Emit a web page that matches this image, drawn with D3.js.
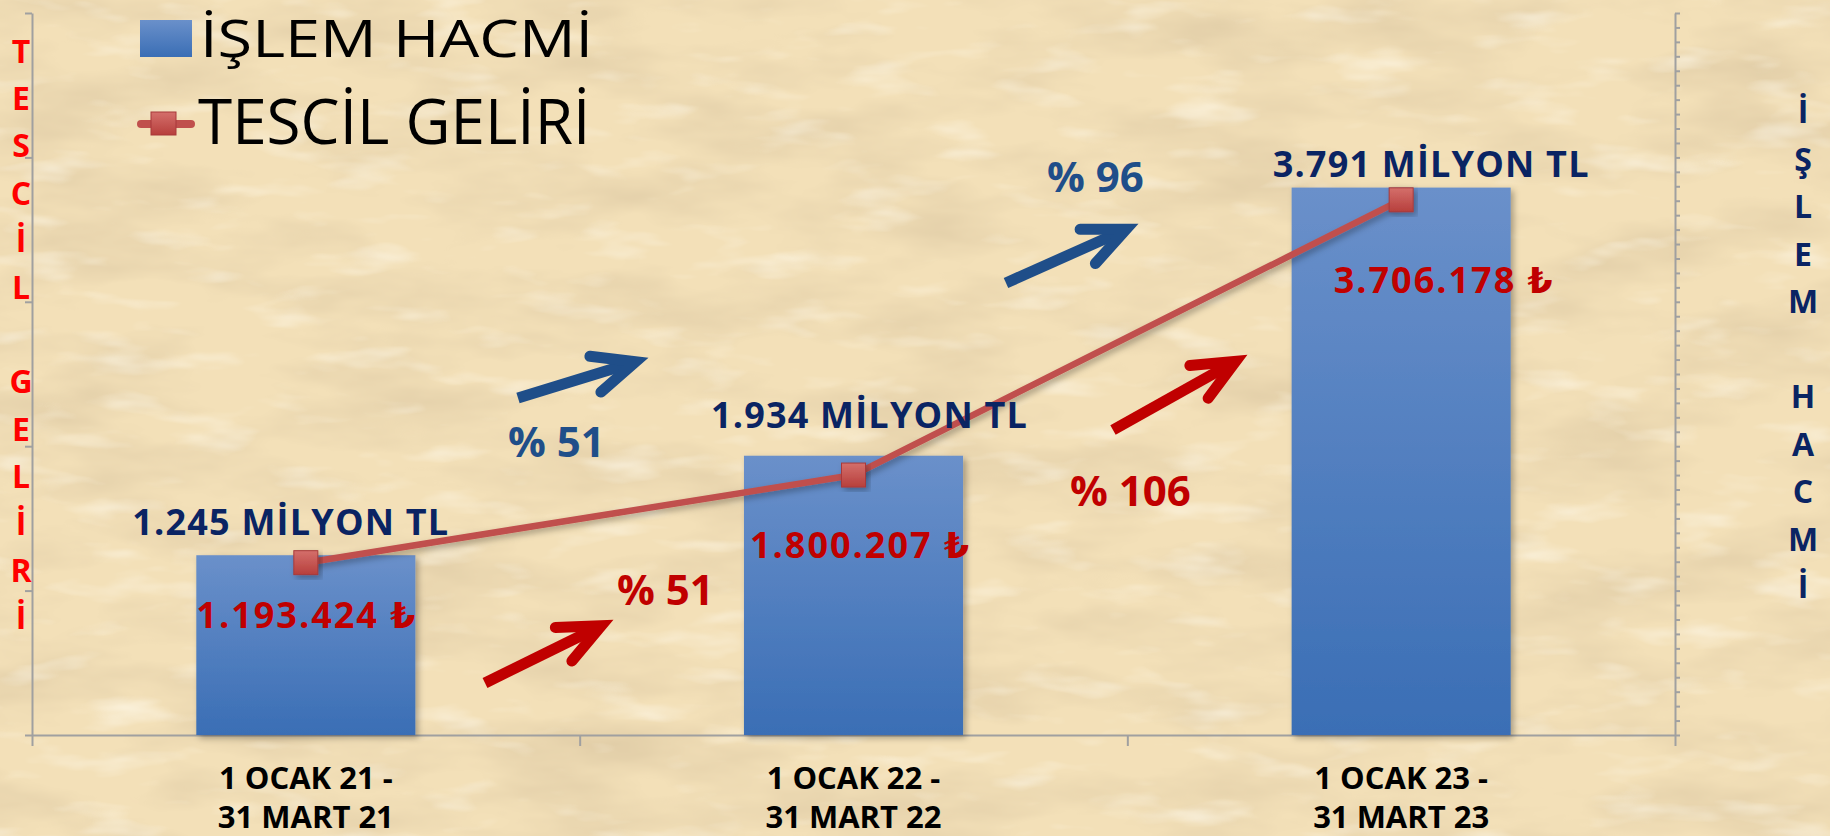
<!DOCTYPE html>
<html>
<head>
<meta charset="utf-8">
<script src="https://cdn.jsdelivr.net/npm/d3@7"></script>
<style>
  html, body { margin: 0; padding: 0; background: #f2dfb7; overflow: hidden; }
  svg { display: block; }
  text { font-family: 'Open Sans', 'DejaVu Sans', sans-serif; }
</style>
</head>
<body>
<svg id="chart" width="1830" height="836"></svg>
<script>
// data
var categories = [['1 OCAK 21 -', '31 MART 21'], ['1 OCAK 22 -', '31 MART 22'], ['1 OCAK 23 -', '31 MART 23']]
var islemHacmi = [1245, 1934, 3791]              // milyon TL
var tescilGeliri = [1193424, 1800207, 3706178]   // TL
var hacimTicks = d3.range(0, 5001, 100)
var gelirTicks = d3.range(0, 5000001, 1000000)
var seriesNames = ['İŞLEM HACMİ', 'TESCİL GELİRİ']
var hacimArtis = ['% 51', '% 96']
var gelirArtis = ['% 51', '% 106']
var leftTitle = 'TESCİL GELİRİ'
var rightTitle = 'İŞLEM HACMİ'

// layout
var W = 1830, H = 836
var plotLeft = 32, plotRight = 1675, plotTop = 13, plotBottom = 735
var navy = '#0a2463', darkRed = '#c00000', arrowBlue = '#1f4e89', lineRed = '#c0504d', axisGray = '#a0a0a0'

// hand placed label offsets, as in the original slide
var hacimLabelOff = [[-15, -20], [16, -28], [30, -11]]
var gelirLabelOff = [[1, 65], [7, 83], [43, 93]]
var blueArrows = [{tail: [518, 398], tip: [648, 358], text: [508, 457]},
                  {tail: [1006, 283], tip: [1138, 224], text: [1047, 192]}]
var redArrows = [{tail: [485, 683], tip: [613, 620], text: [617, 605]},
                 {tail: [1113, 430], tip: [1247, 355], text: [1070, 506]}]

var tr = d3.formatLocale({decimal: ',', thousands: '.', grouping: [3], currency: ['', '₺']})
var fmt = tr.format(',d')

var svg = d3.select('#chart')
var defs = svg.append('defs')

// parchment texture
var f1 = defs.append('filter').attr('id', 'tex1').attr('filterUnits', 'userSpaceOnUse')
    .attr('x', 0).attr('y', 0).attr('width', W).attr('height', H)
f1.append('feTurbulence').attr('type', 'fractalNoise').attr('baseFrequency', '0.006 0.018')
    .attr('numOctaves', 4).attr('seed', 7)
f1.append('feColorMatrix').attr('type', 'matrix')
    .attr('values', '0 0 0 0 0.74  0 0 0 0 0.60  0 0 0 0 0.38  1.7 0 0 0 -0.70')
var f2 = defs.append('filter').attr('id', 'tex2').attr('filterUnits', 'userSpaceOnUse')
    .attr('x', 0).attr('y', 0).attr('width', W).attr('height', H)
f2.append('feTurbulence').attr('type', 'fractalNoise').attr('baseFrequency', '0.012 0.04')
    .attr('numOctaves', 3).attr('seed', 21)
f2.append('feColorMatrix').attr('type', 'matrix')
    .attr('values', '0 0 0 0 1  0 0 0 0 0.97  0 0 0 0 0.88  -1.4 0 0 0 0.62')

var shadow = defs.append('filter').attr('id', 'shadow').attr('x', '-20%').attr('y', '-20%')
    .attr('width', '140%').attr('height', '140%')
shadow.append('feDropShadow').attr('dx', 3).attr('dy', 3).attr('stdDeviation', 3)
    .attr('flood-color', '#000').attr('flood-opacity', 0.3)

var barGrad = defs.append('linearGradient').attr('id', 'barGrad').attr('x1', 0).attr('y1', 0).attr('x2', 0).attr('y2', 1)
barGrad.append('stop').attr('offset', '0%').attr('stop-color', '#6a90ca')
barGrad.append('stop').attr('offset', '100%').attr('stop-color', '#3a6eb5')
var mkGrad = defs.append('linearGradient').attr('id', 'mkGrad').attr('x1', 0).attr('y1', 0).attr('x2', 0).attr('y2', 1)
mkGrad.append('stop').attr('offset', '0%').attr('stop-color', '#d46f6b')
mkGrad.append('stop').attr('offset', '100%').attr('stop-color', '#b73f3c')

svg.append('rect').attr('width', W).attr('height', H).attr('fill', '#f3e0b8')
svg.append('rect').attr('width', W).attr('height', H).attr('filter', 'url(#tex1)')
svg.append('rect').attr('width', W).attr('height', H).attr('filter', 'url(#tex2)')

// scales
var x = d3.scaleBand().domain(d3.range(categories.length)).range([plotLeft, plotRight])
var xEdge = d3.scaleLinear().domain([0, categories.length]).range([plotLeft, plotRight])
var yHacim = d3.scaleLinear().domain([0, 5000]).range([plotBottom, plotTop])
var yGelir = d3.scaleLinear().domain([0, 5000000]).range([plotBottom, plotTop])
var barW = x.bandwidth() * 0.4
function cx(i) { return x(i) + x.bandwidth() / 2 }

// axes
function styleAxis(g) {
    g.attr('color', axisGray)
    g.selectAll('path, line').attr('stroke-width', 2)
}
svg.append('g').attr('transform', 'translate(' + plotLeft + ',0)')
    .call(d3.axisLeft(yGelir).tickValues(gelirTicks).tickSize(7).tickSizeOuter(0).tickFormat(''))
    .call(styleAxis)
svg.append('g').attr('transform', 'translate(' + plotRight + ',0)')
    .call(d3.axisRight(yHacim).tickValues(hacimTicks).tickSize(5).tickSizeOuter(0).tickFormat(''))
    .call(styleAxis)
svg.append('g').attr('transform', 'translate(0,' + plotBottom + ')')
    .call(d3.axisBottom(xEdge).tickValues(d3.range(categories.length + 1)).tickSize(11).tickSizeOuter(0).tickFormat(''))
    .call(styleAxis)

// category labels
var catG = svg.append('g')
categories.forEach(function (c, i) {
    c.forEach(function (line, k) {
        catG.append('text').text(line)
            .attr('x', cx(i)).attr('y', 789 + k * 39)
            .attr('text-anchor', 'middle')
            .attr('font-size', 31).attr('font-weight', 700)
            .attr('fill', '#000')
    })
})

// bars
svg.append('g').selectAll('rect').data(islemHacmi).join('rect')
    .attr('x', function (d, i) { return cx(i) - barW / 2 })
    .attr('y', function (d) { return yHacim(d) })
    .attr('width', barW)
    .attr('height', function (d) { return plotBottom - yHacim(d) })
    .attr('fill', 'url(#barGrad)')
    .attr('filter', 'url(#shadow)')

// line
var line = d3.line().x(function (d, i) { return cx(i) }).y(function (d) { return yGelir(d) })
svg.append('path').datum(tescilGeliri)
    .attr('d', line)
    .attr('fill', 'none').attr('stroke', lineRed).attr('stroke-width', 6.5)
    .attr('filter', 'url(#shadow)')
svg.append('g').selectAll('rect').data(tescilGeliri).join('rect')
    .attr('x', function (d, i) { return cx(i) - 12 })
    .attr('y', function (d) { return yGelir(d) - 12 })
    .attr('width', 24).attr('height', 24)
    .attr('fill', 'url(#mkGrad)').attr('stroke', '#a8393a').attr('stroke-width', 1)
    .attr('filter', 'url(#shadow)')

// value labels
svg.append('g').selectAll('text').data(islemHacmi).join('text')
    .text(function (d) { return fmt(d) + ' MİLYON TL' })
    .attr('x', function (d, i) { return cx(i) + hacimLabelOff[i][0] })
    .attr('y', function (d, i) { return yHacim(d) + hacimLabelOff[i][1] })
    .attr('text-anchor', 'middle')
    .attr('font-size', 36).attr('font-weight', 700).attr('letter-spacing', 1.2)
    .attr('fill', navy)
svg.append('g').selectAll('text').data(tescilGeliri).join('text')
    .text(function (d) { return fmt(d) + ' ₺' })
    .attr('x', function (d, i) { return cx(i) + gelirLabelOff[i][0] })
    .attr('y', function (d, i) { return yGelir(d) + gelirLabelOff[i][1] })
    .attr('text-anchor', 'middle')
    .attr('font-size', 36).attr('font-weight', 700).attr('letter-spacing', 2)
    .attr('fill', darkRed)

// growth arrows
function drawArrow(g, a, color) {
    var dx = a.tip[0] - a.tail[0], dy = a.tip[1] - a.tail[1]
    var len = Math.sqrt(dx * dx + dy * dy)
    var ux = dx / len, uy = dy / len
    var tip = [a.tip[0] - 13 * ux, a.tip[1] - 13 * uy]
    var back = Math.atan2(-uy, -ux), spread = 24 * Math.PI / 180, L = 46
    var b1 = [tip[0] + L * Math.cos(back + spread), tip[1] + L * Math.sin(back + spread)]
    var b2 = [tip[0] + L * Math.cos(back - spread), tip[1] + L * Math.sin(back - spread)]
    g.append('path')
        .attr('d', 'M' + a.tail + 'L' + [tip[0] - 4 * ux, tip[1] - 4 * uy])
        .attr('stroke', color).attr('stroke-width', 11).attr('fill', 'none')
    g.append('path')
        .attr('d', 'M' + b1 + 'L' + tip + 'L' + b2)
        .attr('stroke', color).attr('stroke-width', 11).attr('fill', 'none')
        .attr('stroke-linecap', 'round').attr('stroke-linejoin', 'miter')
}
var arrG = svg.append('g')
blueArrows.forEach(function (a, i) {
    drawArrow(arrG, a, arrowBlue)
    arrG.append('text').text(hacimArtis[i]).attr('x', a.text[0]).attr('y', a.text[1])
        .attr('font-size', 42).attr('font-weight', 700).attr('fill', arrowBlue)
})
redArrows.forEach(function (a, i) {
    drawArrow(arrG, a, darkRed)
    arrG.append('text').text(gelirArtis[i]).attr('x', a.text[0]).attr('y', a.text[1])
        .attr('font-size', 42).attr('font-weight', 700).attr('fill', darkRed)
})

// vertical axis titles, one letter per line
function verticalTitle(str, xc, firstBase, step, color) {
    var g = svg.append('g')
    Array.from(str).forEach(function (ch, i) {
        if (ch === ' ') return
        g.append('text').text(ch).attr('x', xc).attr('y', firstBase + i * step)
            .attr('text-anchor', 'middle')
            .attr('font-size', 32).attr('font-weight', 700).attr('fill', color)
    })
}
verticalTitle(leftTitle, 21, 63, 47.2, '#ff0000')
verticalTitle(rightTitle, 1803, 123, 47.5, navy)

// legend
var leg = svg.append('g')
leg.append('rect').attr('x', 140).attr('y', 20).attr('width', 52).attr('height', 37)
    .attr('fill', 'url(#barGrad)')
leg.append('text').text(seriesNames[0])
    .attr('transform', 'translate(200,57) scale(1,0.82)')
    .attr('font-size', 63).attr('fill', '#000')
leg.append('line').attr('x1', 141).attr('x2', 191).attr('y1', 124).attr('y2', 124)
    .attr('stroke', lineRed).attr('stroke-width', 8).attr('stroke-linecap', 'round')
leg.append('rect').attr('x', 151).attr('y', 112).attr('width', 25).attr('height', 23)
    .attr('fill', 'url(#mkGrad)').attr('stroke', '#a8393a')
leg.append('text').text(seriesNames[1])
    .attr('x', 198).attr('y', 144)
    .attr('font-size', 62).attr('fill', '#000')
</script>
</body>
</html>
